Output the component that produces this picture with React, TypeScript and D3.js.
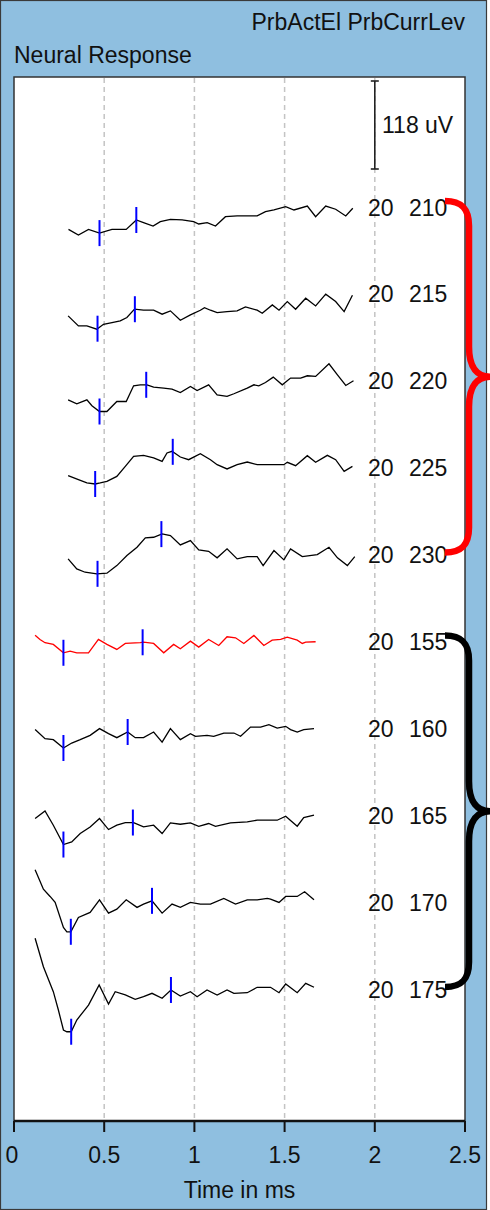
import React from "react";
import * as d3 from "d3";

// ---- data ----
const electrodes = ["20", "20", "20", "20", "20", "20", "20", "20", "20", "20"];
const levels = ["210", "215", "220", "225", "230", "155", "160", "165", "170", "175"];
const xTicks = [0, 0.5, 1, 1.5, 2, 2.5];
const scaleBarUV = 118;
const highlighted = "155";

// [time ms, amplitude uV] relative to each trace's row
const trace210: [number, number][] = [
  [0.302, -30], [0.357, -37.5], [0.413, -30], [0.474, -35], [0.543, -30], [0.622, -30], [0.678, -17.4],
  [0.718, -21], [0.771, -25.5], [0.811, -19.7], [0.867, -16.5], [0.932, -17.4], [0.996, -19.7], [1.024, -22.8],
  [1.071, -21], [1.117, -25.5], [1.172, -13], [1.237, -12], [1.348, -12], [1.394, -6.3], [1.441, -4],
  [1.506, 0.4], [1.552, -4], [1.626, 1.3], [1.672, -13], [1.728, 1.3], [1.783, -3], [1.839, -12], [1.878, -1.7],
];
const trace215: [number, number][] = [
  [0.3, -29.5], [0.357, -43], [0.404, -43], [0.459, -47.4], [0.496, -40.7], [0.543, -38.5], [0.589, -36.2],
  [0.626, -31.7], [0.668, -20.5], [0.718, -21.9], [0.774, -21.9], [0.821, -27.2], [0.867, -22.8], [0.922, -35.3],
  [0.978, -28.2], [1.033, -21.9], [1.056, -18.4], [1.089, -21.9], [1.126, -25], [1.181, -23.7], [1.237, -22.8],
  [1.283, -17.4], [1.348, -21.9], [1.376, -25.9], [1.432, -14.8], [1.469, -21.9], [1.515, -10.3], [1.561, -20.6],
  [1.617, -5.8], [1.672, -16.1], [1.728, -0.4], [1.783, -10.3], [1.83, -23.7], [1.876, -1.8],
];
const trace220: [number, number][] = [
  [0.3, -25.5], [0.348, -30.8], [0.404, -25.5], [0.432, -33.5], [0.474, -41.2], [0.515, -41.2], [0.57, -27.8],
  [0.622, -27.8], [0.663, -6.7], [0.7, -5.4], [0.737, -5.4], [0.774, -8.5], [0.83, -9.8], [0.876, -11.1],
  [0.922, -15.7], [0.978, -7.6], [1.015, -13], [1.079, -5.4], [1.126, -18.8], [1.181, -21], [1.219, -17.4],
  [1.293, -9.8], [1.33, -5.4], [1.357, -6.7], [1.394, -2.3], [1.437, 4.9], [1.487, -5.4], [1.533, 3.6],
  [1.589, 3.6], [1.626, 6.7], [1.672, 5.8], [1.746, 22.8], [1.793, 8], [1.839, -6.3], [1.882, 0],
];
const trace225: [number, number][] = [
  [0.3, -10.7], [0.357, -16.1], [0.404, -20.5], [0.45, -21.9], [0.478, -20.5], [0.515, -18.4], [0.57, -11.7],
  [0.617, 1.7], [0.663, 15.2], [0.718, 16.5], [0.774, 13], [0.821, 8.4], [0.848, 19.7], [0.876, 21.9],
  [0.922, 14.3], [0.968, 10.7], [1.033, 18.8], [1.089, 10.7], [1.126, 4], [1.181, -1.7], [1.237, 4],
  [1.293, 7.6], [1.348, 4], [1.496, 4], [1.515, 7.2], [1.561, 2.7], [1.626, 16.1], [1.672, 7.2],
  [1.737, 16.5], [1.783, 10.7], [1.83, -5], [1.876, 1.7],
];
const trace230: [number, number][] = [
  [0.3, -5.8], [0.348, -19.2], [0.394, -23.7], [0.459, -25.9], [0.515, -25], [0.57, -14.8], [0.626, -1.3],
  [0.682, 9.8], [0.728, 22.4], [0.774, 23.2], [0.821, 27.8], [0.867, 25.5], [0.922, 13], [0.978, 18.8],
  [1.024, 6.3], [1.079, 4.4], [1.126, -4.4], [1.181, 7.6], [1.237, -5.8], [1.293, -2.7], [1.348, -2.7],
  [1.381, -14.8], [1.441, 5.4], [1.496, -7.1], [1.533, 7.6], [1.598, -2.7], [1.681, 0], [1.746, 9.8],
  [1.793, -4.4], [1.848, -14.8], [1.889, -2.7],
];
const trace155: [number, number][] = [
  [0.117, 8.4], [0.144, 2.7], [0.172, -1.7], [0.218, -4], [0.274, -15.2], [0.311, -13], [0.348, -15.2],
  [0.413, -15.2], [0.468, 2.7], [0.515, -4], [0.57, -10.7], [0.617, -2.7], [0.7, -1.7], [0.718, -0.9],
  [0.774, -2.7], [0.83, -15.2], [0.885, -4], [0.922, -9.8], [0.978, 0.4], [1.024, -7.6], [1.079, 2.7],
  [1.135, -5.4], [1.181, 6.3], [1.228, 4.9], [1.274, -2.7], [1.33, 8], [1.385, -5.4], [1.431, 1.7],
  [1.478, 2.7], [1.515, 5.8], [1.57, 1.7], [1.598, -2.7], [1.617, -0.9], [1.672, -0.4],
];
const trace160: [number, number][] = [
  [0.117, -1.7], [0.172, -13.8], [0.218, -15.2], [0.274, -26.4], [0.32, -19.7], [0.367, -15.2], [0.422, -9.4],
  [0.474, -0.4], [0.524, -7.1], [0.57, -12.5], [0.63, -4.9], [0.672, -12.5], [0.718, -12.5], [0.774, -4.9],
  [0.821, -18.4], [0.867, -0.4], [0.922, -15.2], [0.978, -7.1], [1.006, -10.7], [1.07, -9.4], [1.107, -10.7],
  [1.163, -6.3], [1.219, -6.3], [1.256, -10.7], [1.311, 1.7], [1.367, 1.7], [1.413, 5], [1.459, 0.4],
  [1.506, 2.7], [1.533, -1.7], [1.57, -5], [1.606, -1.7], [1.663, -0.4],
];
const trace165: [number, number][] = [
  [0.117, -4.4], [0.172, 5.8], [0.218, -13.4], [0.274, -39.3], [0.32, -35.8], [0.367, -24.6], [0.422, -15.7],
  [0.474, -4.4], [0.524, -19.2], [0.57, -13.4], [0.617, -9.8], [0.663, -9.8], [0.718, -15.7], [0.774, -13.4],
  [0.821, -24.6], [0.867, -10.3], [0.922, -12.1], [0.978, -10.3], [1.024, -14.8], [1.079, -11.1], [1.117, -14.8],
  [1.2, -10.3], [1.293, -9], [1.348, -6.7], [1.404, -6.7], [1.459, -6.7], [1.506, -1.3], [1.57, -14.8],
  [1.606, -3.1], [1.663, 0],
];
const trace170: [number, number][] = [
  [0.117, 43.3], [0.163, 17.4], [0.2, 7.6], [0.228, -0.4], [0.274, -34], [0.293, -39.8], [0.315, -39.8],
  [0.357, -20.5], [0.422, -13.8], [0.474, 3.1], [0.524, -14.8], [0.57, -9.4], [0.622, 3.1], [0.682, -7.1],
  [0.718, -2.7], [0.765, 1.7], [0.821, -14.8], [0.876, -2.7], [0.922, -7.1], [0.978, -0.4], [1.033, -2.7],
  [1.089, -2.7], [1.163, 5], [1.228, -2.7], [1.293, 3.1], [1.348, 3.1], [1.404, 5], [1.422, 4],
  [1.469, -0.4], [1.506, 7.6], [1.57, 7.6], [1.611, 13.8], [1.663, 3.1],
];
const trace175: [number, number][] = [
  [0.117, 68], [0.163, 29.9], [0.218, -3.6], [0.246, -28.2], [0.274, -55], [0.293, -57.3], [0.317, -57.3],
  [0.348, -41.6], [0.413, -21.5], [0.472, 5.4], [0.524, -20.1], [0.561, -3.6], [0.617, -8], [0.672, -13.8],
  [0.718, -10.3], [0.765, -5.8], [0.821, -12.5], [0.87, -1.3], [0.922, -9.4], [0.978, -3.6], [1.015, -10.3],
  [1.07, -1.3], [1.126, -8], [1.181, -1.3], [1.219, -5.8], [1.293, -5], [1.348, 2.3], [1.422, 2.3],
  [1.469, -5], [1.506, 6.7], [1.57, -5], [1.617, 7.6], [1.663, 2.3],
];
const traces = [trace210, trace215, trace220, trace225, trace230, trace155, trace160, trace165, trace170, trace175];

// marker times (ms): [negative peak, positive peak]
const markerTimes: [number, number][] = [
  [0.474, 0.678], [0.463, 0.67], [0.474, 0.733], [0.45, 0.88], [0.463, 0.817],
  [0.274, 0.713], [0.274, 0.63], [0.274, 0.659], [0.315, 0.765], [0.317, 0.87],
];

// brace groups (first level, last level)
const braceGroups: { from: string; to: string; color: string }[] = [
  { from: "210", to: "230", color: "#ff0000" },
  { from: "155", to: "175", color: "#000000" },
];

// ---- layout ----
const W = 490;
const H = 1210;
const plotL = 14;
const plotR = 465;
const plotT = 77;
const plotB = 1121;
const FONT = "'Liberation Sans', Arial, sans-serif";

const x = d3.scaleLinear().domain([0, 2.5]).range([plotL, plotR]);
const rowY = d3.scalePoint<string>().domain(levels).range([207, 989]);
const amp = d3.scaleLinear().domain([0, scaleBarUV]).range([0, -88]);

function valueAt(data: [number, number][], t: number): number {
  const i = d3.bisector((d: [number, number]) => d[0]).left(data, t);
  if (i <= 0) return data[0][1];
  if (i >= data.length) return data[data.length - 1][1];
  const a = data[i - 1];
  const b = data[i];
  const f = (t - a[0]) / (b[0] - a[0]);
  return a[1] + (b[1] - a[1]) * f;
}

function bracePath(top: number, bot: number): string {
  const mid = (top + bot) / 2;
  const xs = 445;
  const xv = 469;
  const xt = 490;
  const p = d3.path();
  p.moveTo(xs, top);
  p.bezierCurveTo(462, top, xv, top + 8, xv, top + 25);
  p.lineTo(xv, mid - 30);
  p.bezierCurveTo(xv, mid - 8, 478, mid, xt, mid);
  p.bezierCurveTo(478, mid, xv, mid + 8, xv, mid + 30);
  p.lineTo(xv, bot - 25);
  p.bezierCurveTo(xv, bot - 8, 462, bot, xs, bot);
  return p.toString();
}

export default function App() {
  const scaleTop = 81;
  const scaleBot = scaleTop - amp(scaleBarUV);
  const xs = x(2);
  return (
    <svg
      width={W}
      height={H}
      style={{ position: "absolute", left: 0, top: 0, display: "block" }}
      fontFamily={FONT}
    >
      <rect x={0} y={0} width={W} height={H} fill="#ffffff" />
      <rect x={0.5} y={0.5} width={486} height={H - 1} fill="#8fbfe0" stroke="#3a3a3a" strokeWidth={1.2} />
      <text x={plotR} y={30} textAnchor="end" fontSize={23} fill="#111">PrbActEl PrbCurrLev</text>
      <text x={plotL} y={63} fontSize={23} fill="#111">Neural Response</text>

      <rect x={plotL} y={plotT} width={plotR - plotL} height={plotB - plotT} fill="#ffffff" stroke="#333" strokeWidth={1.5} />

      {xTicks.filter((t) => t > 0 && t < 2.5).map((t) => (
        <line key={"g" + t} x1={x(t)} x2={x(t)} y1={plotT + 1} y2={plotB} stroke="#c4c4c4" strokeWidth={1.5} strokeDasharray="5,4" />
      ))}

      {/* scale bar */}
      <line x1={xs} x2={xs} y1={scaleTop} y2={scaleBot} stroke="#222" strokeWidth={1.6} />
      <line x1={xs - 4} x2={xs + 4} y1={scaleTop} y2={scaleTop} stroke="#222" strokeWidth={1.6} />
      <line x1={xs - 4} x2={xs + 4} y1={scaleBot} y2={scaleBot} stroke="#222" strokeWidth={1.6} />
      <text x={382} y={(scaleTop + scaleBot) / 2 + 8} fontSize={23} fill="#111">{scaleBarUV} uV</text>

      {levels.map((lv, i) => {
        const cy = rowY(lv) as number;
        const data = traces[i];
        const line = d3
          .line<[number, number]>()
          .x((d) => x(d[0]))
          .y((d) => cy + amp(d[1]));
        const col = lv === highlighted ? "#ff0000" : "#000000";
        return (
          <g key={lv}>
            <path d={line(data) || ""} fill="none" stroke={col} strokeWidth={1.3} strokeLinejoin="miter" />
            {markerTimes[i].map((t, j) => {
              const my = cy + amp(valueAt(data, t));
              return (
                <line key={j} x1={x(t)} x2={x(t)} y1={my - 13} y2={my + 13} stroke="#0000ff" strokeWidth={2} />
              );
            })}
            <text x={368} y={cy + 8.5} fontSize={23} fill="#111">{electrodes[i]}</text>
            <text x={409} y={cy + 8.5} fontSize={23} fill="#111">{lv}</text>
          </g>
        );
      })}

      {/* axis */}
      <line x1={plotL} x2={plotR} y1={plotB} y2={plotB} stroke="#111" strokeWidth={2.5} />
      {xTicks.map((t) => (
        <g key={"t" + t}>
          <line x1={x(t)} x2={x(t)} y1={plotB} y2={plotB + 11} stroke="#111" strokeWidth={2} />
          <text x={x(t) - (t === 0 ? 2 : 0)} y={1163} textAnchor="middle" fontSize={23} fill="#111">{t}</text>
        </g>
      ))}
      <text x={(plotL + plotR) / 2} y={1198} textAnchor="middle" fontSize={23} fill="#111">Time in ms</text>

      {braceGroups.map((b) => (
        <path
          key={b.from}
          d={bracePath((rowY(b.from) as number) - 6, (rowY(b.to) as number) - 2)}
          fill="none"
          stroke={b.color}
          strokeWidth={6.5}
        />
      ))}
    </svg>
  );
}
